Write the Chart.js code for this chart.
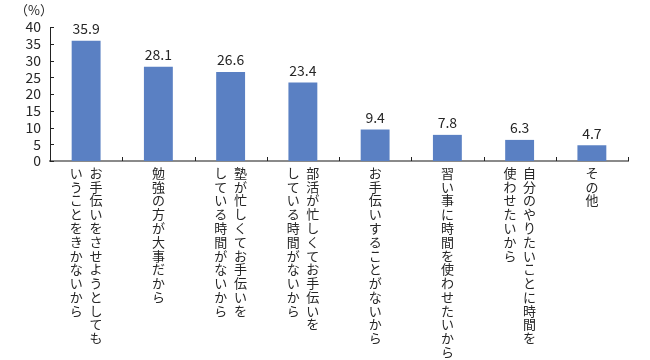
<!DOCTYPE html>
<html>
<head>
<meta charset="utf-8">
<script src="https://cdn.jsdelivr.net/npm/chart.js@4"></script>
<style>
  body { margin: 0; background: #fff; }
  #wrap { width: 650px; height: 360px; }
</style>
</head>
<body>
<div id="wrap"><canvas id="chart" width="650" height="360"></canvas></div>
<script>
// 各項目: [右の列, 左の列]（縦書き）
const categories = [
  ['お手伝いをさせようとしても', 'いうことをきかないから'],
  ['勉強の方が大事だから'],
  ['塾が忙しくてお手伝いを', 'している時間がないから'],
  ['部活が忙しくてお手伝いを', 'している時間がないから'],
  ['お手伝いすることがないから'],
  ['習い事に時間を使わせたいから'],
  ['自分のやりたいことに時間を', '使わせたいから'],
  ['その他']
];
const values = [35.9, 28.1, 26.6, 23.4, 9.4, 7.8, 6.3, 4.7];
const yMin = 0, yMax = 40, yStep = 5;
const unitLabel = '（%）';

const FONT = "'Noto Sans CJK JP', 'Noto Sans', sans-serif";
const TEXT = '#262626';

// 縦書きラベルを1文字ずつの行に組む
function toVertical(cols) {
  const chars = cols.map(c => Array.from(c));
  const n = Math.max(...chars.map(c => c.length));
  const lines = [];
  for (let i = 0; i < n; i++) {
    if (chars.length === 1) lines.push(chars[0][i]);
    else lines.push((chars[1][i] || '　') + '\u2002' + (chars[0][i] || '　'));
  }
  return lines;
}

const overlay = {
  id: 'overlay',
  afterDraw(chart) {
    const { ctx, chartArea, scales: { x, y } } = chart;
    ctx.save();
    // 値ラベル
    ctx.font = '14px ' + FONT;
    ctx.fillStyle = TEXT;
    ctx.textAlign = 'center';
    ctx.textBaseline = 'bottom';
    chart.getDatasetMeta(0).data.forEach((bar, i) => {
      ctx.fillText(values[i].toFixed(1), bar.x, bar.y - 5);
    });
    // 単位
    ctx.font = '13px ' + FONT;
    ctx.textBaseline = 'middle';
    ctx.fillText(unitLabel, chartArea.left - 16, chartArea.top - 17);
    // 目盛り（内向き）
    ctx.lineWidth = 1;
    ctx.strokeStyle = '#222';
    y.ticks.forEach(t => {
      const py = Math.round(y.getPixelForValue(t.value)) + 0.5;
      ctx.beginPath();
      ctx.moveTo(chartArea.left, py);
      ctx.lineTo(chartArea.left + 4, py);
      ctx.stroke();
    });
    for (let i = 1; i <= categories.length; i++) {
      const px = Math.round(x.getPixelForValue(i - 0.5)) + 0.5;
      ctx.beginPath();
      ctx.moveTo(px, chartArea.bottom);
      ctx.lineTo(px, chartArea.bottom - 4);
      ctx.stroke();
    }
    ctx.restore();
  }
};

Chart.defaults.font.family = FONT;

new Chart(document.getElementById('chart'), {
  type: 'bar',
  data: {
    labels: categories.map(toVertical),
    datasets: [{
      data: values,
      backgroundColor: '#5a80c3',
      barPercentage: 0.4,
      categoryPercentage: 1.0
    }]
  },
  options: {
    responsive: false,
    animation: false,
    layout: { padding: { top: 27, right: 22, bottom: 0, left: 0 } },
    plugins: { legend: { display: false }, tooltip: { enabled: false } },
    scales: {
      x: {
        z: 1,
        grid: { display: false, drawTicks: false },
        border: { display: true, color: '#8a8a8a', width: 2 },
        ticks: {
          autoSkip: false, maxRotation: 0, minRotation: 0, padding: 5,
          color: TEXT, font: { size: 13, lineHeight: 1.06 }
        },
        afterFit(scale) { scale.height = 199; }
      },
      y: {
        z: 1,
        min: yMin, max: yMax,
        grid: { display: false, drawTicks: false },
        border: { display: true, color: '#222', width: 1 },
        ticks: {
          stepSize: yStep, autoSkip: false, padding: 9,
          color: TEXT, font: { size: 14, lineHeight: 1 }
        },
        afterFit(scale) { scale.width = 50; }
      }
    }
  },
  plugins: [overlay]
});
</script>
</body>
</html>
